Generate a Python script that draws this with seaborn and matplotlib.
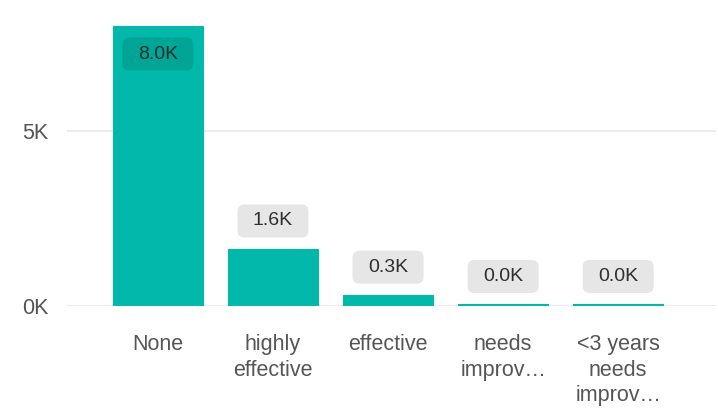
import matplotlib
matplotlib.use("Agg")
import matplotlib.pyplot as plt
import matplotlib.transforms as mtransforms
from matplotlib.patches import FancyBboxPatch
import seaborn as sns
import pandas as pd

# Ratings and how many records fall in each
categories = ["None", "highly\neffective", "effective", "needs\nimprov…", "<3 years\nneeds\nimprov…"]
counts = [8000, 1630, 310, 45, 45]
value_labels = ["8.0K", "1.6K", "0.3K", "0.0K", "0.0K"]
ytick_values = [0, 5000]
ytick_labels = ["0K", "5K"]

TEAL = "#01B8AA"
TEAL_DARK = "#00A596"
LABEL_BG = "#E6E6E6"
TEXT = "#2E2E2E"
TICK = "#555555"

sns.set_style("white")
plt.rcParams["font.family"] = ["Liberation Sans", "DejaVu Sans"]

fig = plt.figure(figsize=(7.18, 4.2), dpi=100)
ax = fig.add_axes([67 / 718, (420 - 306) / 420, (716 - 67) / 718, 306 / 420])

df = pd.DataFrame({"category": categories, "count": counts})
sns.barplot(data=df, x="category", y="count", color=TEAL, saturation=1,
            width=0.78, edgecolor=TEAL, linewidth=0.8, ax=ax)

ax.set_xlim(-0.79, 4.85)
ax.set_ylim(0, 8743)
ax.set_yticks(ytick_values)
ax.set_yticklabels(ytick_labels)
ax.set_xlabel("")
ax.set_ylabel("")
for s in ax.spines.values():
    s.set_visible(False)
ax.grid(axis="y", color="#E8E8E8", linewidth=1.2)
ax.set_axisbelow(True)
ax.tick_params(axis="y", length=0, pad=13.5, labelsize=15.5, labelcolor=TICK)
ax.tick_params(axis="x", length=0, pad=20, labelsize=15.5, labelcolor=TICK)
for t in ax.get_xticklabels():
    t.set_linespacing(1.3)

# Value labels: rounded boxes offset in pixels from each bar's top
box_w, box_h, offset = 71, 33, 28
for i, (v, lab) in enumerate(zip(counts, value_labels)):
    inside = i == 0
    dy = -offset if inside else offset
    trans = mtransforms.IdentityTransform() + mtransforms.ScaledTranslation(i, v, ax.transData)
    patch = FancyBboxPatch((-box_w / 2, dy - box_h / 2), box_w, box_h,
                           boxstyle="round,pad=0,rounding_size=7",
                           fc=TEAL_DARK if inside else LABEL_BG, ec="none",
                           transform=trans, zorder=4, clip_on=False)
    ax.add_artist(patch)
    ax.text(0, dy, lab, transform=trans, ha="center", va="center",
            fontsize=14, color=TEXT, zorder=5)

fig.savefig("out.png", dpi=100)
